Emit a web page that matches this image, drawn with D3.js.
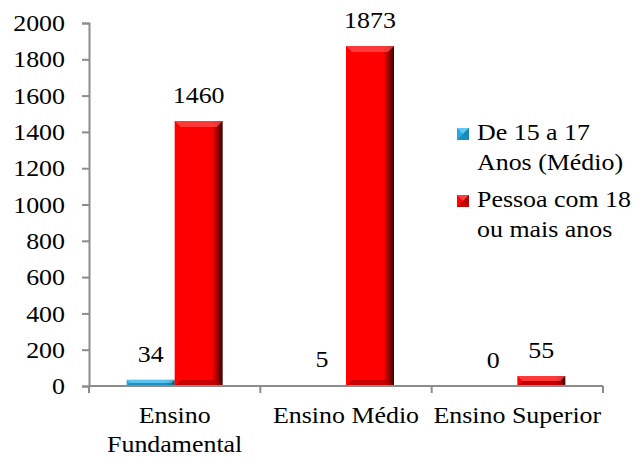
<!DOCTYPE html>
<html>
<head>
<meta charset="utf-8">
<script src="https://cdn.jsdelivr.net/npm/d3@7"></script>
</head>
<body style="margin:0; background:#fff">
<div id="chart"></div>
<script>
var categories = [["Ensino", "Fundamental"], ["Ensino Médio"], ["Ensino Superior"]];
var seriesNames = [["De 15 a 17", "Anos (Médio)"], ["Pessoa com 18", "ou mais anos"]];
var jovens = [34, 5, 0];
var adultos = [1460, 1873, 55];
var yTicks = [0, 200, 400, 600, 800, 1000, 1200, 1400, 1600, 1800, 2000];

var box = {
  width: 637,
  height: 459,
  top: 23,
  bottom: 386,
  left: 89,
  right: 603,
}
var FONT = "Liberation Serif";
var stretchX = 1.08; // the reference text is a little wider than plain Times

function stretch(sel, cx) {
  sel.attr("transform", `translate(${cx},0) scale(${stretchX},1) translate(${-cx},0)`);
}

var svg = d3.select("#chart")
  .append("svg")
  .attr("width", box.width)
  .attr("height", box.height)
  .attr("font-family", FONT)
  .style("font-family", FONT);

/* gradients for the bevelled bars */
let defs = svg.append("defs");
function barGradient(id, base, dark) {
  let g = defs.append("linearGradient").attr("id", id)
    .attr("x1", "0%").attr("x2", "100%").attr("y1", "0%").attr("y2", "0%");
  g.append("stop").attr("offset", "0%").attr("stop-color", base);
  g.append("stop").attr("offset", "78%").attr("stop-color", base);
  g.append("stop").attr("offset", "100%").attr("stop-color", dark);
}
barGradient("gradRed", "#ff0000", "#3a0000");
barGradient("gradBlue", "#27a9e1", "#0b4a66");

var colors = [
  { fill: "url(#gradBlue)", top: "#6fd0f5", bottom: "#1b86b5", solid: "#27a9e1" },
  { fill: "url(#gradRed)", top: "#ff5050", bottom: "#b00000", solid: "#ff0000" },
];

let x = d3.scaleBand()
  .domain(d3.range(categories.length))
  .range([box.left, box.right]);

let y = d3.scaleLinear()
  .domain([0, 2000])
  .range([box.bottom, box.top]);

let barW = 48;
let x1 = d3.scaleBand()
  .domain([0, 1])
  .range([x.bandwidth() / 2 - barW, x.bandwidth() / 2 + barW]);

/* y axis */
let tickLen = 7, tickPad = 17;
let yAxis = svg.append("g")
  .attr("transform", `translate(${box.left}, 0)`)
  .call(d3.axisLeft(y).tickValues(yTicks).tickSize(tickLen).tickPadding(tickPad).tickFormat(d3.format("d")));
yAxis.attr("font-family", FONT).attr("font-size", 24);
yAxis.select(".domain").attr("stroke", "#8c8c8c").attr("stroke-width", 2);
yAxis.selectAll(".tick line").attr("stroke", "#8c8c8c").attr("stroke-width", 2);
yAxis.selectAll(".tick text")
  .style("font-family", FONT)
  .style("font-size", "24px")
  .attr("fill", "#000")
  .call(stretch, -(tickLen + tickPad));

/* bars */
let data = [jovens, adultos];
let bars = svg.append("g");
for (let s = 0; s < data.length; s++) {
  data[s].forEach((v, i) => {
    let bx = x(i) + x1(s);
    let by = y(v);
    let bh = y(0) - y(v);
    if (bh <= 0) return;
    bars.append("rect")
      .attr("x", bx).attr("y", by)
      .attr("width", barW).attr("height", bh)
      .attr("fill", colors[s].fill);
    let bev = Math.min(6, bh / 2);
    // top bevel
    bars.append("polygon")
      .attr("points", [[bx, by], [bx + barW, by], [bx + barW - bev, by + bev], [bx + bev, by + bev]].join(" "))
      .attr("fill", colors[s].top)
      .attr("opacity", 0.7);
    // bottom bevel
    bars.append("polygon")
      .attr("points", [[bx, by + bh], [bx + barW, by + bh], [bx + barW - bev, by + bh - bev], [bx + bev, by + bh - bev]].join(" "))
      .attr("fill", colors[s].bottom)
      .attr("opacity", 0.7);
  });
}

/* value labels */
for (let s = 0; s < data.length; s++) {
  svg.append("g")
    .selectAll("text")
    .data(data[s])
    .enter()
    .append("text")
    .attr("x", (d, i) => x(i) + x1(s) + barW / 2)
    .attr("y", (d) => y(d) - 18)
    .attr("text-anchor", "middle")
    .style("font-family", FONT)
    .style("font-size", "24px")
    .text((d) => d)
    .each(function (d, i) { d3.select(this).call(stretch, x(i) + x1(s) + barW / 2); });
}

/* x axis */
let xg = svg.append("g");
xg.append("line")
  .attr("x1", box.left).attr("x2", box.right)
  .attr("y1", y(0)).attr("y2", y(0))
  .attr("stroke", "#8c8c8c").attr("stroke-width", 2);
let bounds = d3.range(categories.length + 1).map((i) => box.left + i * x.step());
xg.selectAll("line.tick")
  .data(bounds)
  .enter()
  .append("line")
  .attr("class", "tick")
  .attr("x1", (d) => d).attr("x2", (d) => d)
  .attr("y1", y(0)).attr("y2", y(0) + 7)
  .attr("stroke", "#8c8c8c").attr("stroke-width", 2);

categories.forEach((lines, i) => {
  let cx = x(i) + x.bandwidth() / 2;
  let t = xg.append("text")
    .attr("x", cx)
    .attr("y", 423)
    .attr("text-anchor", "middle")
    .style("font-family", FONT)
    .style("font-size", "24px")
    .call(stretch, cx);
  lines.forEach((l, j) => {
    t.append("tspan")
      .attr("x", cx)
      .attr("dy", j === 0 ? 0 : 29)
      .text(l);
  });
});

/* legend */
let legend = svg.append("g");
seriesNames.forEach((lines, s) => {
  let ly = 140 + s * 67;
  let mx = 457, my = ly - 12, ms = 12;
  legend.append("rect")
    .attr("x", mx).attr("y", my)
    .attr("width", ms).attr("height", ms)
    .attr("fill", colors[s].solid);
  legend.append("polygon")
    .attr("points", [[mx, my], [mx + ms, my], [mx + ms / 2, my + ms / 2]].join(" "))
    .attr("fill", colors[s].top).attr("opacity", 0.8);
  legend.append("polygon")
    .attr("points", [[mx + ms, my], [mx + ms, my + ms], [mx + ms / 2, my + ms / 2]].join(" "))
    .attr("fill", colors[s].bottom);
  legend.append("polygon")
    .attr("points", [[mx, my + ms], [mx + ms, my + ms], [mx + ms / 2, my + ms / 2]].join(" "))
    .attr("fill", colors[s].bottom).attr("opacity", 0.7);
  let t = legend.append("text")
    .attr("x", 477)
    .attr("y", ly)
    .style("font-family", FONT)
    .style("font-size", "24px")
    .call(stretch, 477);
  lines.forEach((l, j) => {
    t.append("tspan")
      .attr("x", 477)
      .attr("dy", j === 0 ? 0 : 30)
      .text(l);
  });
});
</script>
</body>
</html>
